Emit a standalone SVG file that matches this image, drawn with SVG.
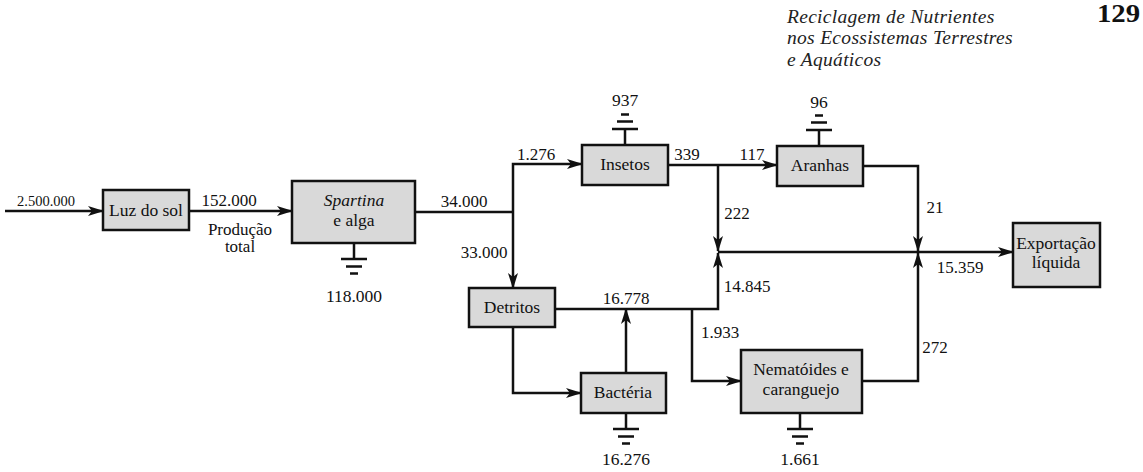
<svg xmlns="http://www.w3.org/2000/svg" width="1143" height="472" viewBox="0 0 1143 472">
<style>
text{font-family:"Liberation Serif","DejaVu Serif",serif;font-size:17.5px;fill:#111;text-anchor:middle}
.lbl{font-size:17px}
.small{font-size:14.5px}
.hdr{font-style:italic;font-size:19.5px;letter-spacing:0.3px;text-anchor:start;fill:#222}
.box{fill:#d9d9d9;stroke:#111;stroke-width:2.5}
.ln{fill:none;stroke:#111;stroke-width:2.5}
.arr{fill:none;stroke:#111;stroke-width:2.5;marker-end:url(#ah)}
</style>
<defs>
<marker id="ah" viewBox="0 0 16 10" markerWidth="16" markerHeight="10" refX="15" refY="5" orient="auto" markerUnits="userSpaceOnUse">
<path d="M0,0 L16,5 L0,10 L4,5 z" fill="#111"/>
</marker>
<g id="gnd"><path d="M0,0 V16 M-13,16 H13 M-8,23.5 H8 M-4,30.5 H4" fill="none" stroke="#111" stroke-width="2.5"/></g>
</defs>
<rect width="1143" height="472" fill="#ffffff"/>

<g id="header">
<text class="hdr" x="787" y="23">Reciclagem de Nutrientes</text>
<text class="hdr" x="787" y="44">nos Ecossistemas Terrestres</text>
<text class="hdr" x="787" y="66">e Aquáticos</text>
<text transform="translate(1097,22) scale(1.15,1)" x="0" y="0" style="font-size:25px;font-weight:bold;text-anchor:start">129</text>
</g>

<g id="connectors">
<path class="arr" d="M5,211 H103"/>
<path class="arr" d="M189,211 H292"/>
<path class="ln" d="M415,212 H513"/>
<path class="arr" d="M513,212 V164 H582"/>
<path class="arr" d="M513,212 V288"/>
<path class="arr" d="M668,165 H777"/>
<path class="arr" d="M718,165 V251"/>
<path class="arr" d="M863,166 H918 V251"/>
<path class="arr" d="M718,252 H1013"/>
<path class="arr" d="M555,309 H718 V253"/>
<path class="arr" d="M626,373 V309"/>
<path class="arr" d="M513,327 V393 H581"/>
<path class="arr" d="M692,309 V381 H741"/>
<path class="arr" d="M862,381 H918 V253"/>
<text class="small" x="46" y="206">2.500.000</text>
<text class="lbl" x="229" y="206">152.000</text>
<text class="lbl" x="240" y="235">Produção</text>
<text class="lbl" x="240" y="252">total</text>
<text class="lbl" x="464" y="207">34.000</text>
<text class="lbl" x="484" y="258">33.000</text>
<text class="lbl" x="536" y="160">1.276</text>
<text class="lbl" x="687" y="160">339</text>
<text class="lbl" x="752" y="160">117</text>
<text class="lbl" x="737" y="219">222</text>
<text class="lbl" x="935" y="213">21</text>
<text class="lbl" x="960" y="273">15.359</text>
<text class="lbl" x="747" y="292">14.845</text>
<text class="lbl" x="626" y="304">16.778</text>
<text class="lbl" x="720" y="338">1.933</text>
<text class="lbl" x="935" y="353">272</text>
</g>

<g id="luz">
<rect class="box" x="103" y="190" width="86" height="40"/>
<text x="146" y="216">Luz do sol</text>
</g>

<g id="spartina">
<rect class="box" x="292" y="181" width="123" height="62"/>
<text x="354" y="206" style="font-style:italic">Spartina</text>
<text x="354" y="226">e alga</text>
<use href="#gnd" transform="translate(354,243)"/>
<text x="354" y="302">118.000</text>
</g>

<g id="insetos">
<rect class="box" x="582" y="145" width="86" height="40"/>
<text x="625" y="170">Insetos</text>
<use href="#gnd" transform="translate(625,145) scale(1,-1)"/>
<text x="625" y="106">937</text>
</g>

<g id="aranhas">
<rect class="box" x="777" y="146" width="86" height="40"/>
<text x="820" y="171">Aranhas</text>
<use href="#gnd" transform="translate(819,146) scale(1,-1)"/>
<text x="819" y="108">96</text>
</g>

<g id="exportacao">
<rect class="box" x="1013" y="223" width="87" height="64"/>
<text x="1056" y="249">Exportação</text>
<text x="1056" y="268">líquida</text>
</g>

<g id="detritos">
<rect class="box" x="469" y="288" width="86" height="39"/>
<text x="512" y="313">Detritos</text>
</g>

<g id="bacteria">
<rect class="box" x="581" y="373" width="85" height="40"/>
<text x="623" y="398">Bactéria</text>
<use href="#gnd" transform="translate(626,413)"/>
<text x="626" y="465">16.276</text>
</g>

<g id="nematoides">
<rect class="box" x="741" y="350" width="121" height="63"/>
<text x="801" y="375">Nematóides e</text>
<text x="801" y="395">caranguejo</text>
<use href="#gnd" transform="translate(800,413)"/>
<text x="800" y="465">1.661</text>
</g>
</svg>
